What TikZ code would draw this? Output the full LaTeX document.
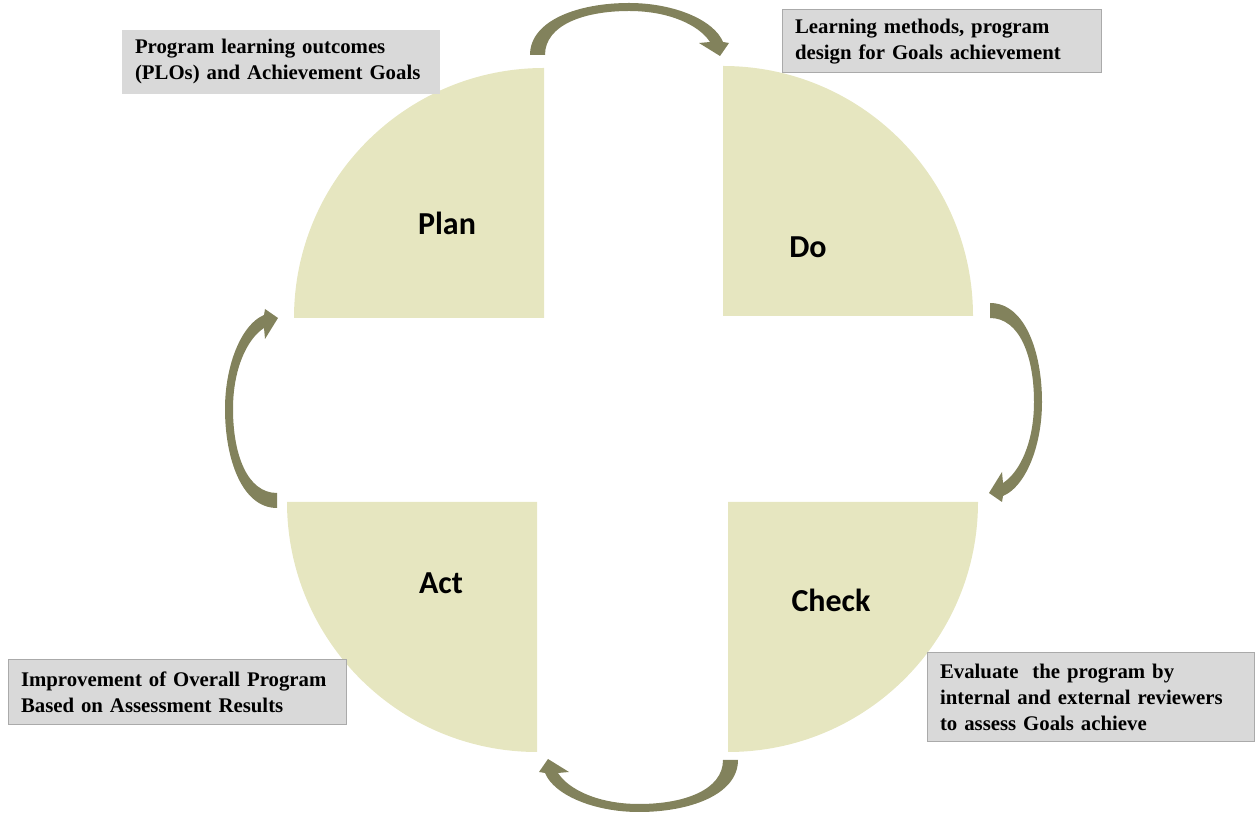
\documentclass[tikz,border=0pt]{standalone}
\usepackage{fontspec}
\setmainfont{Liberation Serif}
\newfontfamily\labelfont{Carlito}
\usepackage{tikz}

\definecolor{quadfill}{RGB}{230,230,192}
\definecolor{arrowfill}{RGB}{130,130,92}
\definecolor{boxfill}{RGB}{217,217,217}
\definecolor{boxline}{RGB}{170,170,170}

\begin{document}
\begin{tikzpicture}[x=1pt,y=1pt,
quad/.style={fill=quadfill},
phase/.style={font=\labelfont\bfseries\fontsize{32}{38}\selectfont},
note/.style={fill=boxfill,draw=boxline,line width=1pt,inner sep=0pt,
  align=left,font=\bfseries\fontsize{20.8}{26}\selectfont},
cyc arrow/.pic={
  \fill[arrowfill] (-99,0) .. controls (-99,35) and (-50,52) .. (0,52)
    .. controls (45,52) and (85,35) .. (94,13) -- (100,12) -- (91,-1)
    -- (70,12) -- (81,13) .. controls (70,30) and (40,44) .. (0,44)
    .. controls (-45,44) and (-84,30) .. (-84,0) -- cycle;}]

\useasboundingbox (0,0) rectangle (1256,814);

% the four quarters
\fill[quad] (544,496) -- ++(0,250) arc[start angle=90,end angle=180,radius=250] -- cycle;
\fill[quad] (723,498) -- ++(0,250) arc[start angle=90,end angle=0,radius=250] -- cycle;
\fill[quad] (537,312) -- ++(-250,0) arc[start angle=180,end angle=270,radius=250] -- cycle;
\fill[quad] (728,312) -- ++(250,0) arc[start angle=0,end angle=-90,radius=250] -- cycle;

\node[phase] (plan) at (447,591) {Plan};
\node[phase] (do) at (808,567) {Do};
\node[phase] (act) at (441,231) {Act};
\node[phase] (check) at (831,214) {Check};

% arrows round the cycle
\pic at (629,759) {cyc arrow};
\pic[rotate=-90] at (990,412) {cyc arrow};
\pic[rotate=180] at (639,54) {cyc arrow};
\pic[rotate=90] at (277,405) {cyc arrow};

% notes
\node[note,draw=none,minimum width=318pt,minimum height=64pt,text width=292pt]
  (plannote) at (281,752) {Program learning outcomes\\(PLOs) and Achievement Goals};
\node[note,minimum width=319pt,minimum height=63pt,text width=293pt]
  (donote) at (941.5,772.5) {Learning methods, program\\design for Goals achievement};
\node[note,minimum width=338pt,minimum height=65pt,text width=312pt]
  (actnote) at (177,121.5) {Improvement of Overall Program\\Based on Assessment Results};
\node[note,minimum width=327pt,minimum height=89pt,text width=301pt]
  (checknote) at (1090.5,116.5) {Evaluate~ the program by\\internal and external reviewers\\to assess Goals achieve};

\end{tikzpicture}
\end{document}
